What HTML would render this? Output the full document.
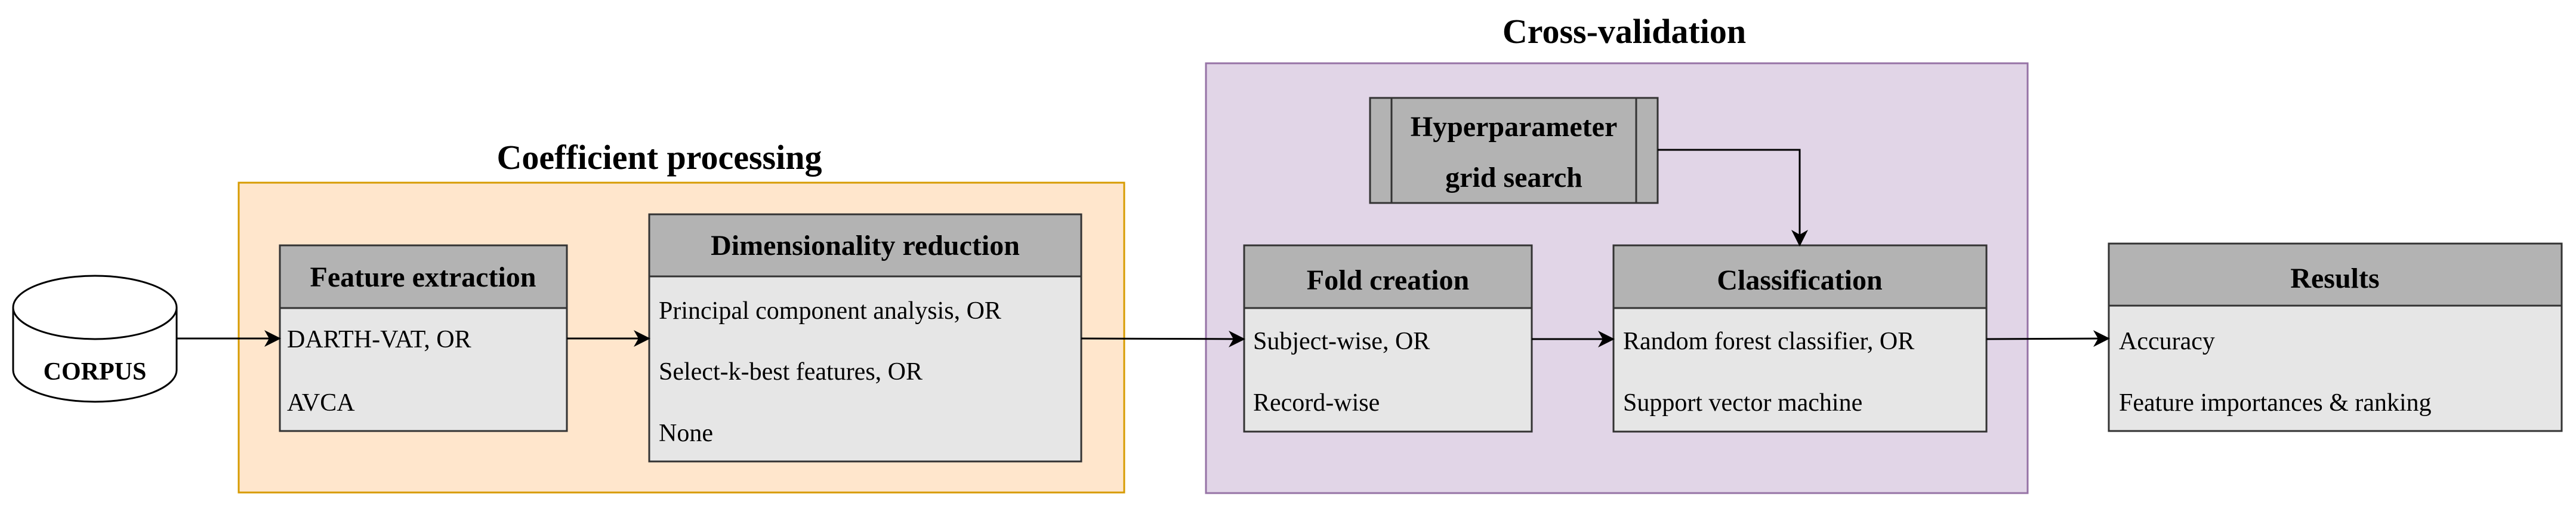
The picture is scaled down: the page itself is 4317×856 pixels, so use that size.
<!DOCTYPE html>
<html><head><meta charset="utf-8"><style>
html,body{margin:0;padding:0;background:#fff}
svg{display:block}
text{font-family:"Liberation Serif",serif;fill:#000}
.h{font-weight:bold;font-size:48px;text-anchor:middle}
.t{font-weight:bold;font-size:58px;text-anchor:middle}
.b{font-size:42px}
</style></head><body>
<svg width="4317" height="856" viewBox="0 0 4317 856" xmlns="http://www.w3.org/2000/svg">
<defs><marker id="a" markerWidth="10" markerHeight="10" refX="9" refY="5" orient="auto" markerUnits="userSpaceOnUse" viewBox="0 0 10 10"><path d="M0,0 L10,5 L0,10 L3,5 z" fill="#000"/></marker>
<marker id="m" markerWidth="28" markerHeight="28" refX="26" refY="14" orient="auto" markerUnits="userSpaceOnUse"><path d="M0,0 L28,14 L0,28 L8,14 z" fill="#000"/></marker></defs>

<rect x="400" y="306" width="1484" height="519" fill="#ffe6cc" stroke="#d79b00" stroke-width="3"/>
<text class="t" x="1105" y="283">Coefficient processing</text>
<rect x="2021" y="106" width="1377" height="720" fill="#e1d5e7" stroke="#9673a6" stroke-width="3"/>
<text class="t" x="2722" y="72">Cross-validation</text>

<!-- cylinder -->
<path d="M22,515 L22,620 A137,53 0 0 0 296,620 L296,515" fill="#fff" stroke="#000" stroke-width="3"/>
<ellipse cx="159" cy="515" rx="137" ry="53" fill="#fff" stroke="#000" stroke-width="3"/>
<text x="159" y="636" style="font-weight:bold;font-size:42px;text-anchor:middle">CORPUS</text>

<g stroke="#333" stroke-width="3">
<rect x="469" y="411" width="481" height="311" fill="#e6e6e6"/><rect x="469" y="411" width="481" height="105" fill="#b3b3b3"/>
<rect x="1088" y="359" width="724" height="414" fill="#e6e6e6"/><rect x="1088" y="359" width="724" height="104" fill="#b3b3b3"/>
<rect x="2296" y="164" width="482" height="176" fill="#b3b3b3"/>
<line x1="2332" y1="164" x2="2332" y2="340"/><line x1="2742" y1="164" x2="2742" y2="340"/>
<rect x="2085" y="411" width="482" height="312" fill="#e6e6e6"/><rect x="2085" y="411" width="482" height="105" fill="#b3b3b3"/>
<rect x="2704" y="411" width="625" height="312" fill="#e6e6e6"/><rect x="2704" y="411" width="625" height="105" fill="#b3b3b3"/>
<rect x="3534" y="408" width="759" height="314" fill="#e6e6e6"/><rect x="3534" y="408" width="759" height="104" fill="#b3b3b3"/>
</g>

<text class="h" x="709" y="480">Feature extraction</text>
<text class="b" x="481" y="582">DARTH-VAT, OR</text>
<text class="b" x="481" y="688">AVCA</text>
<text class="h" x="1450" y="427">Dimensionality reduction</text>
<text class="b" x="1104" y="534">Principal component analysis, OR</text>
<text class="b" x="1104" y="636">Select-k-best features, OR</text>
<text class="b" x="1104" y="739">None</text>
<text class="h" x="2537" y="228">Hyperparameter</text>
<text class="h" x="2537" y="313">grid search</text>
<text class="h" x="2326" y="485">Fold creation</text>
<text class="b" x="2100" y="585">Subject-wise, OR</text>
<text class="b" x="2100" y="688">Record-wise</text>
<text class="h" x="3016" y="485">Classification</text>
<text class="b" x="2720" y="585">Random forest classifier, OR</text>
<text class="b" x="2720" y="688">Support vector machine</text>
<text class="h" x="3913" y="482">Results</text>
<text class="b" x="3551" y="585">Accuracy</text>
<text class="b" x="3551" y="688">Feature importances &amp; ranking</text>

<g stroke="#000" stroke-width="3" fill="none" marker-end="url(#m)">
<line x1="296" y1="567" x2="469" y2="567"/>
<line x1="950" y1="567" x2="1088" y2="567"/>
<line x1="1812" y1="567" x2="2085" y2="568"/>
<line x1="2567" y1="568" x2="2704" y2="568"/>
<line x1="3329" y1="568" x2="3534" y2="567"/>
<polyline points="2778,251 3016,251 3016,411"/>
</g>
</svg>
</body></html>
